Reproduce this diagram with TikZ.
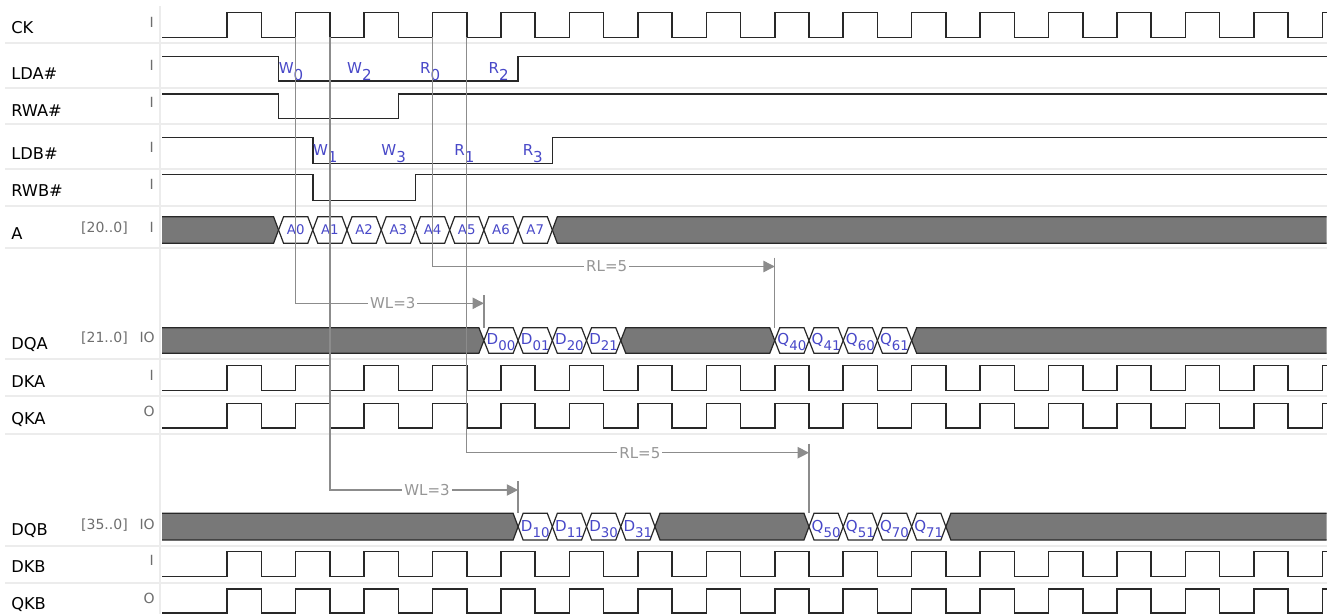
\documentclass[tikz,border=0pt]{standalone}
\usepackage{fontspec}
\setmainfont{DejaVu Sans}
\usetikzlibrary{arrows.meta}
\definecolor{sigc}{RGB}{40,40,40}
\definecolor{busfill}{RGB}{120,120,120}
\definecolor{gridc}{RGB}{236,236,236}
\definecolor{connc}{RGB}{140,140,140}
\definecolor{conntext}{RGB}{150,150,150}
\definecolor{labblue}{RGB}{72,72,200}
\definecolor{attrc}{RGB}{110,110,110}
\def\T#1{(158.8+34.22*(#1))}
\newcommand\namef{\fontsize{12.2}{14}\selectfont}
\newcommand\attrf{\fontsize{10.5}{12}\selectfont}
\newcommand\cellf{\fontsize{10}{11}\selectfont}
\newcommand\dmainf{\fontsize{11.3}{13}\selectfont}
\newcommand\dsubf{\fontsize{10}{11}\selectfont}
\newcommand\connf{\fontsize{11.25}{13}\selectfont}
% clock: high y, low y
\newcommand\myclock[2]{%
  \draw[sig] (162,#2) foreach \k in {2,4,...,32} {
      -- ({\T{\k}},#2) -- ({\T{\k}},#1) -- ({\T{\k+1}},#1) -- ({\T{\k+1}},#2) }
    -- ({\T{34}},#2) -- ({\T{34}},#1) -- (1326.7,#1);}
% pulse signal: high, low, fall t, rise t
\newcommand\mypulse[4]{%
  \draw[sig] (162,#1) -- ({\T{#3}},#1) -- ({\T{#3}},#2) -- ({\T{#4}},#2)
    -- ({\T{#4}},#1) -- (1326.7,#1);}
% hexagon cell: t1 t2 top bottom fill
\newcommand\myhex[5]{%
  \draw[busline,fill=#5] ({\T{#1}},{(#3+#4)/2}) -- ({\T{#1}+5},#3) -- ({\T{#2}-5},#3)
    -- ({\T{#2}},{(#3+#4)/2}) -- ({\T{#2}-5},#4) -- ({\T{#1}+5},#4) -- cycle;}
% gray left part: t top bottom
\newcommand\mygrayleft[3]{%
  \fill[busfill] (162,#2) -- ({\T{#1}-5},#2) -- ({\T{#1}},{(#2+#3)/2}) -- ({\T{#1}-5},#3) -- (162,#3) -- cycle;
  \draw[busline] (162,#2) -- ({\T{#1}-5},#2) -- ({\T{#1}},{(#2+#3)/2}) -- ({\T{#1}-5},#3) -- (162,#3);}
% gray right part: t top bottom
\newcommand\mygrayright[3]{%
  \fill[busfill] (1326.7,#2) -- ({\T{#1}+5},#2) -- ({\T{#1}},{(#2+#3)/2}) -- ({\T{#1}+5},#3) -- (1326.7,#3) -- cycle;
  \draw[busline] (1326.7,#2) -- ({\T{#1}+5},#2) -- ({\T{#1}},{(#2+#3)/2}) -- ({\T{#1}+5},#3) -- (1326.7,#3);}
\begin{document}
\begin{tikzpicture}[x=0.75pt,y=-0.75pt,
  sig/.style={draw=sigc,line width=1.15pt,line join=miter},
  busline/.style={draw=sigc,line width=0.9pt,line join=miter},
  gridline/.style={draw=gridc,line width=1.5pt},
  connline/.style={draw=connc,line width=1pt},
  connarrow/.style={connline,-{Triangle[length=8.5pt,width=8.5pt]}},
  namelab/.style={anchor=base west,inner sep=0pt,text=black,font=\namef},
  attrlab/.style={anchor=base east,inner sep=0pt,text=attrc,font=\attrf},
  celllab/.style={anchor=base,inner sep=0pt,text=labblue,font=\cellf},
  dlab/.style={anchor=base,inner sep=0pt,text=labblue,font=\dmainf},
  wlab/.style={anchor=base,inner sep=0pt,text=labblue,font=\dmainf},
  connlab/.style={fill=white,inner sep=1.5pt,text=conntext,font=\connf}]
\useasboundingbox (0,0) rectangle (1333,614);
\fill[white] (0,0) rectangle (1333,614);
% grid
\foreach \yy in {43.3,87.7,124.3,169.3,206,247.7,359.3,396,434,545.7,582.7}
  \draw[gridline] (5,\yy) -- (1327,\yy);
\draw[gridline] (160,6) -- (160,614);
% names
\node[namelab] (nCK) at (11,33.3) {CK};
\node[namelab] (nLDA) at (11,79.3) {LDA\#};
\node[namelab] (nRWA) at (11,116.7) {RWA\#};
\node[namelab] (nLDB) at (11,159.3) {LDB\#};
\node[namelab] (nRWB) at (11,196.5) {RWB\#};
\node[namelab] (nA) at (11,239.3) {A};
\node[namelab] (nDQA) at (11,349.3) {DQA};
\node[namelab] (nDKA) at (11,387.3) {DKA};
\node[namelab] (nQKA) at (11,424) {QKA};
\node[namelab] (nDQB) at (11,535.5) {DQB};
\node[namelab] (nDKB) at (11,572.7) {DKB};
\node[namelab] (nQKB) at (11,609.3) {QKB};
% attributes
\node[attrlab] (aCK) at (154,27) {I};
\node[attrlab] (aLDA) at (154,70) {I};
\node[attrlab] (aRWA) at (154,107.3) {I};
\node[attrlab] (aLDB) at (154,152.7) {I};
\node[attrlab] (aRWB) at (154,189) {I};
\node[attrlab] (aA) at (154,232.5) {I};
\node[attrlab] (wA) at (128,232.5) {[20..0]};
\node[attrlab] (aDQA) at (155,342.5) {IO};
\node[attrlab] (wDQA) at (128,342.5) {[21..0]};
\node[attrlab] (aDKA) at (154,380) {I};
\node[attrlab] (aQKA) at (155,416) {O};
\node[attrlab] (aDQB) at (155,529.5) {IO};
\node[attrlab] (wDQB) at (128,529.5) {[35..0]};
\node[attrlab] (aDKB) at (154,565.7) {I};
\node[attrlab] (aQKB) at (155,603) {O};
% clocks
\myclock{12.3}{37.3}
\myclock{365.7}{390.3}
\myclock{403.3}{428}
\myclock{551.7}{576.7}
\myclock{589}{612.8}
% control signals
\mypulse{56.7}{81}{3.5}{10.5}
\mypulse{94}{118.3}{3.5}{7}
\mypulse{137.3}{163.3}{4.5}{11.5}
\mypulse{174.3}{200.7}{4.5}{7.5}
% W/R labels
\foreach \tt/\m/\s/\nm in {4/W/0/w0,6/W/2/w2,8/R/0/r0,10/R/2/r2}
  \node[wlab] (\nm) at ({\T{\tt}-2},73.5) {\llap{\m}\rlap{\raisebox{-5.2pt}{\s}}};
\foreach \tt/\m/\s/\nm in {5/W/1/w1,7/W/3/w3,9/R/1/r1,11/R/3/r3}
  \node[wlab] (\nm) at ({\T{\tt}-2},155.6) {\llap{\m}\rlap{\raisebox{-5.2pt}{\s}}};
% A bus
\mygrayleft{3.5}{216.7}{243.3}
\foreach \i in {0,...,7} {
  \myhex{3.5+\i}{4.5+\i}{216.7}{243.3}{white}
  \node[celllab] (a\i) at ({\T{4+\i}},234.5) {A\i};
}
\mygrayright{11.5}{216.7}{243.3}
% DQA bus
\mygrayleft{9.5}{327.7}{353.3}
\myhex{13.5}{18}{327.7}{353.3}{busfill}
\mygrayright{22}{327.7}{353.3}
\foreach \s [count=\i from 0] in {00,01,20,21} {
  \myhex{9.5+\i}{10.5+\i}{327.7}{353.3}{white}
  \node[dlab] (dqad\i) at ({\T{10+\i}},344.8) {D\raisebox{-4.5pt}{\dsubf\s}};
}
\foreach \s [count=\i from 0] in {40,41,60,61} {
  \myhex{18+\i}{19+\i}{327.7}{353.3}{white}
  \node[dlab] (dqaq\i) at ({\T{18.5+\i}},344.8) {Q\raisebox{-4.5pt}{\dsubf\s}};
}
% DQB bus
\mygrayleft{10.5}{513.3}{540}
\myhex{14.5}{19}{513.3}{540}{busfill}
\mygrayright{23}{513.3}{540}
\foreach \s [count=\i from 0] in {10,11,30,31} {
  \myhex{10.5+\i}{11.5+\i}{513.3}{540}{white}
  \node[dlab] (dqbd\i) at ({\T{11+\i}},531.2) {D\raisebox{-4.5pt}{\dsubf\s}};
}
\foreach \s [count=\i from 0] in {50,51,70,71} {
  \myhex{19+\i}{20+\i}{513.3}{540}{white}
  \node[dlab] (dqbq\i) at ({\T{19.5+\i}},531.2) {Q\raisebox{-4.5pt}{\dsubf\s}};
}
% connector coordinates
\coordinate (c4) at ({\T{4}},37.3);
\coordinate (c5) at ({\T{5}},37.3);
\coordinate (c8) at ({\T{8}},37.3);
\coordinate (c9) at ({\T{9}},37.3);
\coordinate (wlaEnd) at ({\T{9.5}},303.3);
\coordinate (rlaEnd) at ({\T{18}},266.5);
\coordinate (wlbEnd) at ({\T{10.5}},490);
\coordinate (rlbEnd) at ({\T{19}},452.7);
\coordinate (wlaT1) at ({\T{9.5}},295);
\coordinate (wlaT2) at ({\T{9.5}},327.7);
\coordinate (rlaT1) at ({\T{18}},257.5);
\coordinate (rlaT2) at ({\T{18}},327.7);
\coordinate (wlbT1) at ({\T{10.5}},481);
\coordinate (wlbT2) at ({\T{10.5}},513.3);
\coordinate (rlbT1) at ({\T{19}},443.5);
\coordinate (rlbT2) at ({\T{19}},513.3);
% connectors
\draw[connarrow] (c4) |- (wlaEnd);
\draw[connarrow] (c8) |- (rlaEnd);
\draw[connarrow] (c5) |- (wlbEnd);
\draw[connarrow] (c9) |- (rlbEnd);
\draw[connline] (wlaT1) -- (wlaT2);
\draw[connline] (rlaT1) -- (rlaT2);
\draw[connline] (wlbT1) -- (wlbT2);
\draw[connline] (rlbT1) -- (rlbT2);
\node[connlab] (wla) at ({(\T{4}+\T{9.5})/2+3},303.3) {WL=3};
\node[connlab] (rla) at ({(\T{8}+\T{18})/2+3},266.5) {RL=5};
\node[connlab] (wlb) at ({(\T{5}+\T{10.5})/2+3},490) {WL=3};
\node[connlab] (rlb) at ({(\T{9}+\T{19})/2+2},452.7) {RL=5};
\end{tikzpicture}
\end{document}
